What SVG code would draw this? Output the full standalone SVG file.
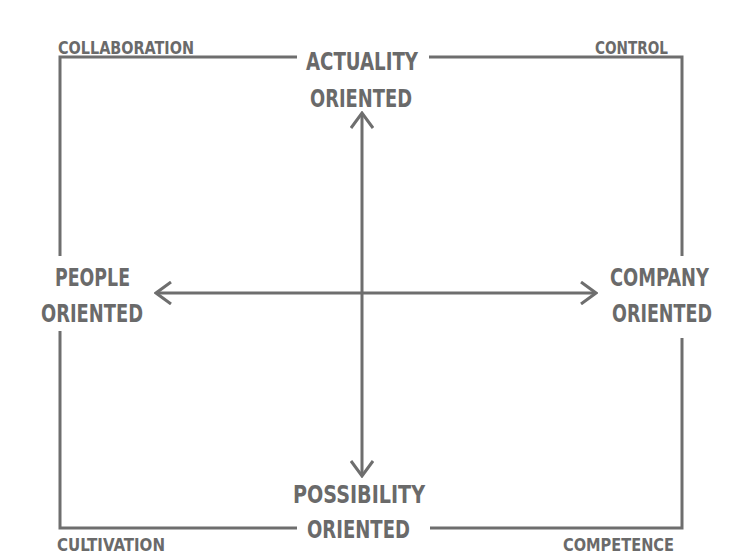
<svg xmlns="http://www.w3.org/2000/svg" width="731" height="559" viewBox="0 0 731 559">
<style>
.ln{stroke:#6e6e6e;stroke-width:3;fill:none}
.big{font-family:"DejaVu Sans Condensed","Liberation Sans",sans-serif;font-weight:bold;font-size:25px;fill:#6a6a6a}
.sm{font-family:"DejaVu Sans Condensed","Liberation Sans",sans-serif;font-weight:bold;font-size:18px;fill:#6a6a6a}
</style>
<defs>
<marker id="ah" viewBox="0 0 20 24" refX="18" refY="12" markerWidth="20" markerHeight="24" markerUnits="userSpaceOnUse" orient="auto-start-reverse">
<path d="M3,1 L18,12 L3,23" fill="none" stroke="#6e6e6e" stroke-width="3"/>
</marker>
</defs>
<rect width="731" height="559" fill="#fff"/>
<g id="connectors">
<path class="ln" d="M297,57 H60 V256"/>
<path class="ln" d="M429,57 H682 V256"/>
<path class="ln" d="M60,331 V528 H297"/>
<path class="ln" d="M682,338 V528 H430"/>
<line class="ln" x1="156" y1="293" x2="596" y2="293" marker-start="url(#ah)" marker-end="url(#ah)"/>
<line class="ln" x1="362" y1="113" x2="362" y2="476" marker-start="url(#ah)" marker-end="url(#ah)"/>
</g>
<g id="collaboration"><text class="sm" x="58" y="54" textLength="136" lengthAdjust="spacingAndGlyphs">COLLABORATION</text></g>
<g id="control"><text class="sm" x="595" y="54" textLength="73" lengthAdjust="spacingAndGlyphs">CONTROL</text></g>
<g id="cultivation"><text class="sm" x="57" y="551" textLength="108" lengthAdjust="spacingAndGlyphs">CULTIVATION</text></g>
<g id="competence"><text class="sm" x="563" y="551" textLength="111" lengthAdjust="spacingAndGlyphs">COMPETENCE</text></g>
<g id="actuality"><text class="big" x="306" y="70" textLength="112" lengthAdjust="spacingAndGlyphs">ACTUALITY</text><text class="big" x="310" y="107" textLength="102" lengthAdjust="spacingAndGlyphs">ORIENTED</text></g>
<g id="people"><text class="big" x="55" y="286" textLength="75" lengthAdjust="spacingAndGlyphs">PEOPLE</text><text class="big" x="41" y="322" textLength="102" lengthAdjust="spacingAndGlyphs">ORIENTED</text></g>
<g id="company"><text class="big" x="610" y="286" textLength="99" lengthAdjust="spacingAndGlyphs">COMPANY</text><text class="big" x="612" y="322" textLength="100" lengthAdjust="spacingAndGlyphs">ORIENTED</text></g>
<g id="possibility"><text class="big" x="293" y="503" textLength="132" lengthAdjust="spacingAndGlyphs">POSSIBILITY</text><text class="big" x="307" y="538" textLength="103" lengthAdjust="spacingAndGlyphs">ORIENTED</text></g>
</svg>
